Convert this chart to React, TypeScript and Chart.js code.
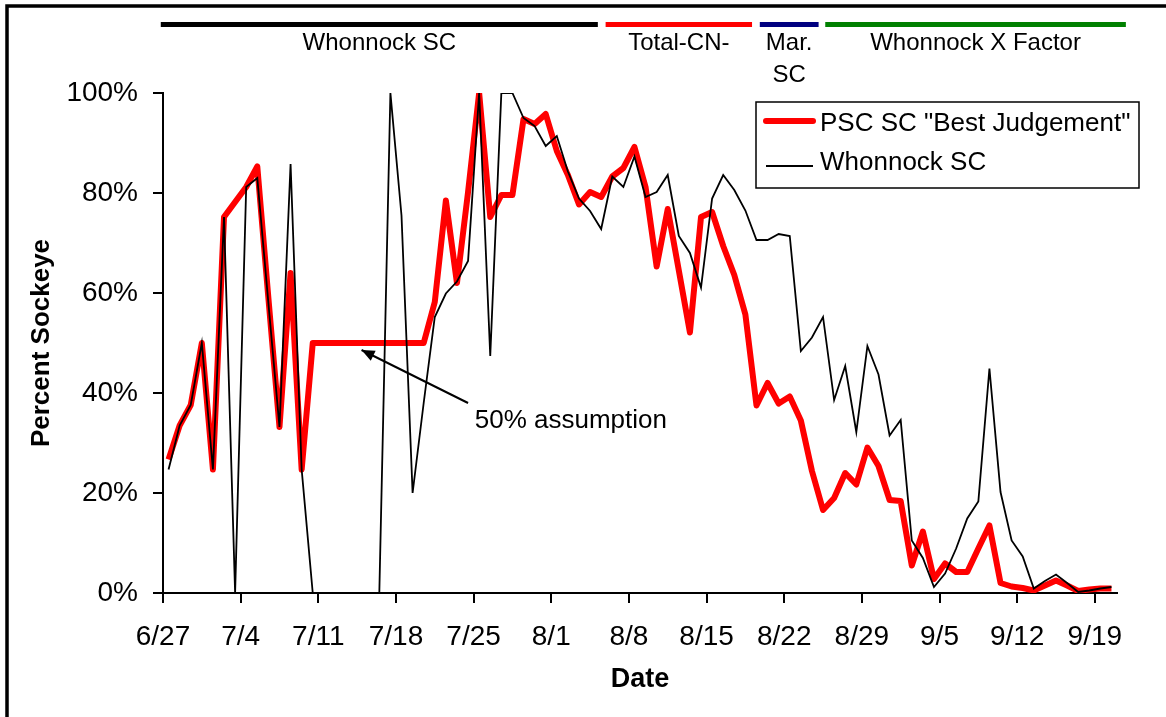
import React, { useEffect, useRef } from "react";
import { Chart, registerables } from "chart.js";

Chart.register(...registerables);

// ---- Data -------------------------------------------------------------
// One value per day, starting 6/27 (day 0).
const tickLabels = ["6/27", "7/4", "7/11", "7/18", "7/25", "8/1", "8/8", "8/15", "8/22", "8/29", "9/5", "9/12", "9/19"];
const tickDays = [0, 7, 14, 21, 28, 35, 42, 49, 56, 63, 70, 77, 84];

const pscBestJudgement = [
  26.7, 33.5, 37.6, 50, 24.7, 75.2, 78.2, 81.2, 85.3, 59, 33.2, 64, 24.7, 50,
  50, 50, 50, 50, 50, 50, 50, 50, 50, 50, 58.2, 78.5, 62, 80.2, 100, 75.2,
  79.6, 79.6, 94.8, 93.8, 95.8, 88.4, 83.6, 77.7, 80.2, 79.2, 83.3, 85, 89.2, 81.2,
  65.3, 76.8, 64.5, 52.1, 75.2, 76.2, 69.4, 63.6, 55.7, 37.5, 42, 37.9, 39.3, 34.5,
  24.4, 16.6, 19, 24, 21.7, 29.1, 25.4, 18.6, 18.4, 5.5, 12.3, 2.8, 5.9, 4.2,
  4.2, 8.9, 13.5, 2, 1.3, 1, 0.5, 1.5, 2.5, 1.5, 0.4, 0.7, 0.9, 0.9,
];

const whonnockSC = [
  24.7, 33.5, 37.6, 50, 24.7, 75.2, 0, 81.2, 83, 58, 33.2, 85.8, 24.7, 0,
  0, 0, 0, 0, 0, 0, 100, 75.5, 20, 38, 55.2, 59.9, 62.3, 66.4, 100, 47.4,
  100, 100, 95, 93.4, 89.4, 91.4, 84.3, 78.9, 76.4, 72.8, 83.3, 81.2, 87.3, 79.2,
  80.2, 83.6, 71.4, 68, 61.1, 78.9, 83.6, 80.6, 76.5, 70.6, 70.6, 71.8, 71.4, 48.4,
  51.1, 55.2, 38.6, 45.4, 32.2, 49.4, 43.7, 31.5, 34.6, 10.5, 7, 1.2, 3.9, 8.9,
  14.9, 18.3, 44.9, 20.2, 10.5, 7.3, 0.9, 2.4, 3.7, 2, 0.2, 0.5, 0.9, 1.2,
];

// Periods shown above the plot (day ranges) and their labels
const periodLabels = [["Whonnock SC"], ["Total-CN-"], ["Mar.", "SC"], ["Whonnock X Factor"]];
const periodStartDays = [-0.2, 39.9, 53.8, 59.7];
const periodEndDays = [39.2, 53.1, 59.1, 86.8];

const seriesLabels = ['PSC SC "Best Judgement"', "Whonnock SC"];
const assumptionText = "50% assumption";

// ---- Styling ----------------------------------------------------------
const FONT = "'Liberation Sans', Arial, Helvetica, sans-serif";
const periodColors = ["#000000", "#FF0000", "#000080", "#008000"];

const toPoints = (arr: number[]) => arr.map((v, i) => ({ x: i + 0.5, y: v }));

const decorPlugin = {
  id: "decor",
  beforeDraw(chart: any) {
    const { ctx, width, height } = chart;
    ctx.save();
    ctx.fillStyle = "#ffffff";
    ctx.fillRect(0, 0, width, height);
    ctx.strokeStyle = "#000";
    ctx.lineWidth = 3.5;
    ctx.beginPath();
    ctx.moveTo(7, height + 5);
    ctx.lineTo(7, 6);
    ctx.lineTo(width + 5, 6);
    ctx.stroke();
    ctx.restore();
  },
  afterDraw(chart: any) {
    const { ctx } = chart;
    const xs = chart.scales.x;
    const ys = chart.scales.y;
    ctx.save();

    // period bars
    periodLabels.forEach((lines, k) => {
      const x0 = xs.getPixelForValue(periodStartDays[k]);
      const x1 = xs.getPixelForValue(periodEndDays[k]);
      ctx.strokeStyle = periodColors[k];
      ctx.lineWidth = 5;
      ctx.beginPath();
      ctx.moveTo(x0, 24.5);
      ctx.lineTo(x1, 24.5);
      ctx.stroke();
      ctx.fillStyle = "#000";
      ctx.font = `24px ${FONT}`;
      ctx.textAlign = "center";
      ctx.textBaseline = "middle";
      lines.forEach((t, j) => ctx.fillText(t, (x0 + x1) / 2, 43 + j * 32));
    });

    // arrow + annotation
    const ax0 = xs.getPixelForValue(27.5), ay0 = ys.getPixelForValue(38);
    const ax1 = xs.getPixelForValue(17.9), ay1 = ys.getPixelForValue(48.6);
    ctx.strokeStyle = "#000";
    ctx.lineWidth = 2;
    ctx.beginPath();
    ctx.moveTo(ax0, ay0);
    ctx.lineTo(ax1, ay1);
    ctx.stroke();
    const ang = Math.atan2(ay1 - ay0, ax1 - ax0);
    const hl = 13, hw = 5.5;
    ctx.fillStyle = "#000";
    ctx.beginPath();
    ctx.moveTo(ax1, ay1);
    ctx.lineTo(ax1 - hl * Math.cos(ang) + hw * Math.sin(ang), ay1 - hl * Math.sin(ang) - hw * Math.cos(ang));
    ctx.lineTo(ax1 - hl * Math.cos(ang) - hw * Math.sin(ang), ay1 - hl * Math.sin(ang) + hw * Math.cos(ang));
    ctx.closePath();
    ctx.fill();
    ctx.font = `26px ${FONT}`;
    ctx.textAlign = "left";
    ctx.textBaseline = "middle";
    ctx.fillText(assumptionText, xs.getPixelForValue(28.1), ys.getPixelForValue(34.4));

    // legend box
    const bx = 756, by = 102, bw = 383, bh = 86;
    ctx.fillStyle = "#fff";
    ctx.fillRect(bx, by, bw, bh);
    ctx.strokeStyle = "#000";
    ctx.lineWidth = 1.5;
    ctx.strokeRect(bx, by, bw, bh);
    const rows = [121, 166];
    chart.data.datasets.forEach((ds: any, k: number) => {
      const y = rows[k];
      ctx.strokeStyle = ds.borderColor;
      ctx.lineWidth = ds.borderWidth;
      ctx.lineCap = k === 0 ? "round" : "butt";
      ctx.beginPath();
      ctx.moveTo(766, y);
      ctx.lineTo(813, y);
      ctx.stroke();
      ctx.fillStyle = "#000";
      ctx.font = `26px ${FONT}`;
      ctx.textAlign = "left";
      ctx.textBaseline = "middle";
      ctx.fillText(ds.label, 820, y + (k === 0 ? 3 : -3));
    });
    ctx.restore();
  },
};

export default function App() {
  const canvasRef = useRef<HTMLCanvasElement | null>(null);

  useEffect(() => {
    if (!canvasRef.current) return;
    const chart = new Chart(canvasRef.current, {
      type: "line",
      data: {
        datasets: [
          {
            label: seriesLabels[0],
            data: toPoints(pscBestJudgement),
            borderColor: "#FF0000",
            backgroundColor: "#FF0000",
            borderWidth: 6,
            borderJoinStyle: "round",
            pointRadius: 0,
            tension: 0,
            order: 2,
          },
          {
            label: seriesLabels[1],
            data: toPoints(whonnockSC),
            borderColor: "#000000",
            backgroundColor: "#000000",
            borderWidth: 1.8,
            pointRadius: 0,
            tension: 0,
            order: 1,
          },
        ],
      },
      options: {
        responsive: false,
        animation: false,
        layout: { padding: { top: 93, right: 49, left: 0, bottom: 0 } },
        plugins: {
          legend: { display: false },
          tooltip: { enabled: false },
          title: { display: false },
        },
        scales: {
          x: {
            type: "linear",
            min: 0,
            max: 86,
            afterBuildTicks: (s: any) => {
              s.ticks = tickDays.map((v) => ({ value: v }));
            },
            afterFit: (s: any) => {
              s.height = 124;
            },
            ticks: {
              autoSkip: false,
              maxRotation: 0,
              padding: 17,
              color: "#000",
              font: { family: FONT, size: 28 },
              callback: (v: any) => {
                const k = tickDays.indexOf(Number(v));
                return k >= 0 ? tickLabels[k] : "";
              },
            },
            grid: {
              drawOnChartArea: false,
              drawTicks: true,
              tickLength: 10,
              color: "#000",
              lineWidth: 2,
            },
            border: { display: true, color: "#000", width: 2 },
            title: {
              display: true,
              text: "Date",
              color: "#000",
              font: { family: FONT, size: 27, weight: "bold" },
              padding: { top: 0, bottom: 21 },
            },
          },
          y: {
            min: 0,
            max: 100,
            afterFit: (s: any) => {
              s.width = 163;
            },
            ticks: {
              stepSize: 20,
              padding: 15,
              color: "#000",
              font: { family: FONT, size: 28 },
              callback: (v: any) => `${v}%`,
            },
            grid: {
              drawOnChartArea: false,
              drawTicks: true,
              tickLength: 10,
              color: "#000",
              lineWidth: 2,
            },
            border: { display: true, color: "#000", width: 2 },
            title: {
              display: true,
              text: "Percent Sockeye",
              color: "#000",
              font: { family: FONT, size: 26, weight: "bold" },
              padding: { top: 26, bottom: 0 },
            },
          },
        },
      },
      plugins: [decorPlugin],
    } as any);
    return () => chart.destroy();
  }, []);

  return (
    <div style={{ position: "fixed", left: 0, top: 0, width: 1166, height: 717, background: "#fff" }}>
      <canvas ref={canvasRef} width={1166} height={717} style={{ width: 1166, height: 717, display: "block" }} />
    </div>
  );
}
